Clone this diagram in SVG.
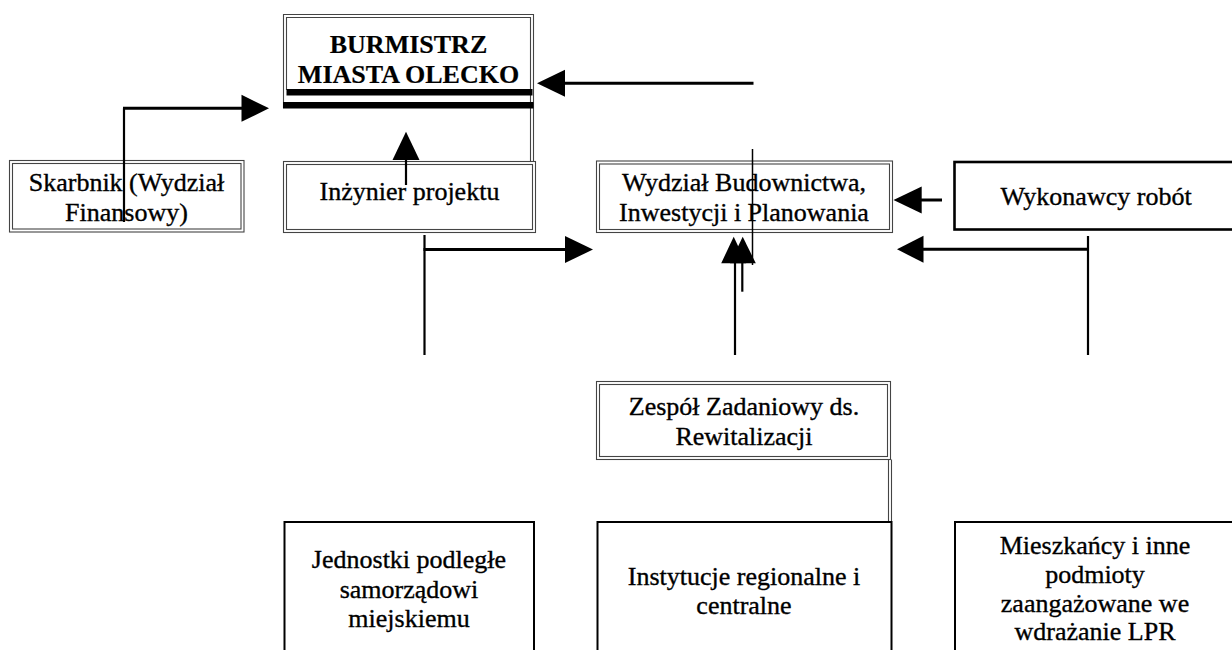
<svg xmlns="http://www.w3.org/2000/svg" width="1232" height="650" viewBox="0 0 1232 650">
<style>
text{font-size:26px;fill:#000;stroke:#000;stroke-width:0.35;text-anchor:middle}
.b{font-weight:bold;stroke-width:0.2}
.dbl{fill:none;stroke:#444;stroke-width:1.1}
.box{fill:#fff;stroke:#000;stroke-width:2}
.ln{fill:none;stroke:#000;stroke-width:2.2}
.lh{fill:none;stroke:#000;stroke-width:3}
.thin{fill:none;stroke:#000;stroke-width:1.5}
.ah{fill:#000;stroke:none}
</style>
<rect x="0" y="0" width="1232" height="650" fill="#fff"/>

<g id="burmistrz" font-family="Liberation Serif, serif">
<path class="dbl" d="M283.5,108 V14.5 H533.5 V162"/>
<path class="dbl" d="M286.5,90 V17.5 H530.5 V162"/>
<rect x="286.5" y="89" width="246" height="6.5" fill="#000"/>
<rect x="283" y="102" width="250.5" height="6.5" fill="#000"/>
<text class="b" x="408.5" y="53" font-family="Liberation Serif">BURMISTRZ</text>
<text class="b" x="408.5" y="83" font-family="Liberation Serif">MIASTA OLECKO</text>
</g>

<g id="skarbnik" font-family="Liberation Serif, serif">
<rect class="dbl" x="9.5" y="160.5" width="234.5" height="71.5"/>
<rect class="dbl" x="12.5" y="163.5" width="228.5" height="65.5"/>
<text x="126.5" y="191" font-family="Liberation Serif">Skarbnik (Wydział</text>
<text x="126.5" y="221" font-family="Liberation Serif">Finansowy)</text>
</g>

<g id="inzynier" font-family="Liberation Serif, serif">
<rect class="dbl" x="283.5" y="161.5" width="252" height="71"/>
<rect class="dbl" x="286.5" y="164.5" width="246" height="65"/>
<text x="409.5" y="200" font-family="Liberation Serif">Inżynier projektu</text>
</g>

<g id="wydzial" font-family="Liberation Serif, serif">
<rect class="dbl" x="596.5" y="161" width="296" height="71.5"/>
<rect class="dbl" x="599.5" y="164" width="290" height="65.5"/>
<text x="744" y="191" font-family="Liberation Serif">Wydział Budownictwa,</text>
<text x="744" y="221" font-family="Liberation Serif">Inwestycji i Planowania</text>
</g>

<g id="wykonawcy" font-family="Liberation Serif, serif">
<rect x="954.5" y="162" width="290" height="67.5" fill="#fff" stroke="#000" stroke-width="2.6"/>
<text x="1096" y="205" font-family="Liberation Serif">Wykonawcy robót</text>
</g>

<g id="zespol" font-family="Liberation Serif, serif">
<rect class="dbl" x="596.5" y="381.5" width="294" height="78"/>
<rect class="dbl" x="599.5" y="384.5" width="288" height="72"/>
<path class="dbl" d="M888.5,459.5 V522 M891.5,459.5 V522"/>
<text x="744" y="415" font-family="Liberation Serif">Zespół Zadaniowy ds.</text>
<text x="744" y="445" font-family="Liberation Serif">Rewitalizacji</text>
</g>

<g id="jednostki" font-family="Liberation Serif, serif">
<rect class="box" x="284.5" y="522" width="249.5" height="140"/>
<text x="409" y="568" font-family="Liberation Serif">Jednostki podległe</text>
<text x="409" y="597.5" font-family="Liberation Serif">samorządowi</text>
<text x="409" y="627" font-family="Liberation Serif">miejskiemu</text>
</g>

<g id="instytucje" font-family="Liberation Serif, serif">
<rect class="box" x="597.5" y="522" width="294" height="140"/>
<text x="744" y="584.5" font-family="Liberation Serif">Instytucje regionalne i</text>
<text x="744" y="613.5" font-family="Liberation Serif">centralne</text>
</g>

<g id="mieszkancy" font-family="Liberation Serif, serif">
<rect class="box" x="955" y="522" width="290" height="140"/>
<text x="1095" y="553.5" font-family="Liberation Serif">Mieszkańcy i inne</text>
<text x="1095" y="582.5" font-family="Liberation Serif">podmioty</text>
<text x="1095" y="611.5" font-family="Liberation Serif">zaangażowane we</text>
<text x="1095" y="640" font-family="Liberation Serif">wdrażanie LPR</text>
</g>

<g id="connectors">
<path class="ln" d="M124,222 V108.3"/>
<path class="lh" d="M123,108.3 H243"/>
<path class="ah" d="M269,108.3 L241.5,94.8 L241.5,121.8 Z"/>
<path class="ln" d="M406,185 V159"/>
<path class="ah" d="M406,131.7 L392.5,160 L419.5,160 Z"/>
<path class="lh" d="M753.5,83.3 H563"/>
<path class="ah" d="M537,83.3 L565,69.8 L565,96.8 Z"/>
<path class="ln" d="M424.5,235 V355"/>
<path class="lh" d="M423.5,249.5 H567"/>
<path class="ah" d="M593,249.5 L565,236 L565,263 Z"/>
<path class="lh" d="M942,200 H920"/>
<path class="ah" d="M893.5,200 L921.7,186.5 L921.7,213.5 Z"/>
<path class="ln" d="M1088,236 V355"/>
<path class="lh" d="M1089,249.3 H921"/>
<path class="ah" d="M897,249.3 L923.5,235.8 L923.5,262.8 Z"/>
<path class="ln" d="M735,355 V261"/>
<path class="ah" d="M733.7,236.7 L721.2,263.3 L746.2,263.3 Z"/>
<path class="ln" d="M742.3,291.7 V261"/>
<path class="ah" d="M742.7,236.7 L730,263.3 L755.8,263.3 Z"/>
<path class="thin" d="M752.5,149 V265"/>
</g>
</svg>
